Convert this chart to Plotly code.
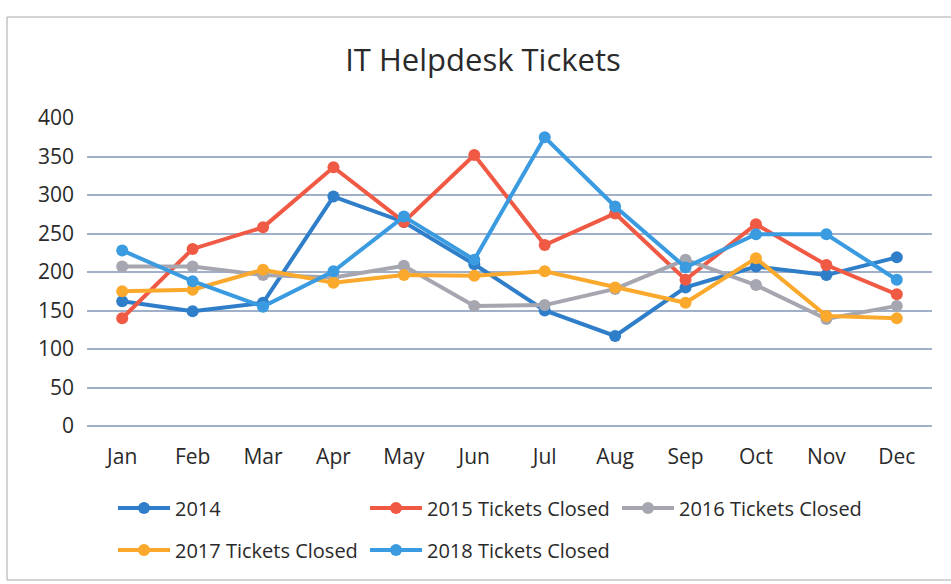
import plotly.graph_objects as go

# Monthly helpdesk ticket counts
months = ["Jan", "Feb", "Mar", "Apr", "May", "Jun", "Jul", "Aug", "Sep", "Oct", "Nov", "Dec"]

tickets_2014 = [162, 149, 160, 298, 265, 210, 150, 117, 180, 207, 196, 219]
tickets_2015 = [140, 230, 258, 336, 265, 352, 235, 276, 190, 262, 209, 171]
tickets_2016 = [207, 207, 196, 193, 208, 156, 157, 178, 216, 183, 139, 156]
tickets_2017 = [175, 177, 203, 186, 196, 195, 201, 180, 160, 218, 143, 140]
tickets_2018 = [228, 188, 155, 201, 272, 216, 375, 285, 206, 249, 249, 190]

series_names = ["2014", "2015 Tickets Closed", "2016 Tickets Closed",
                "2017 Tickets Closed", "2018 Tickets Closed"]
series_values = [tickets_2014, tickets_2015, tickets_2016, tickets_2017, tickets_2018]
series_colors = ["#2f7ec9", "#f05a45", "#a6a6b0", "#fba92c", "#3a9be0"]
# first three entries on the upper legend row, the rest on the lower row
series_legend = ["legend", "legend", "legend", "legend2", "legend2"]

y_ticks = [0, 50, 100, 150, 200, 250, 300, 350, 400]

FONT = "Open Sans"
TEXT = "#2a2a2a"
W, H = 951, 584

fig = go.Figure()
for name, vals, col, lg in zip(series_names, series_values, series_colors, series_legend):
    fig.add_trace(go.Scatter(
        x=months, y=vals, name=name, mode="lines+markers",
        line=dict(color=col, width=4),
        marker=dict(color=col, size=12),
        legend=lg,
    ))

legend_common = dict(orientation="h", xref="container", yref="container",
                     xanchor="left", yanchor="middle",
                     entrywidth=185, entrywidthmode="pixels", itemwidth=52,
                     font=dict(family=FONT, size=20, color=TEXT),
                     bgcolor="rgba(0,0,0,0)")

fig.update_layout(
    width=W, height=H,
    margin=dict(l=87, r=19, t=118, b=158),
    paper_bgcolor="white", plot_bgcolor="white",
    font=dict(family=FONT, color=TEXT),
    title=dict(text="IT Helpdesk Tickets", x=483 / W, xanchor="center",
               y=1 - 60 / H, yanchor="middle", yref="container",
               font=dict(family=FONT, size=31, color=TEXT)),
    xaxis=dict(range=[-0.5, len(months) - 0.5], showgrid=False, showline=False,
               zeroline=False, automargin=False,
               tickfont=dict(size=21, color=TEXT), ticks="", ticklen=0,
               ticklabelstandoff=16),
    yaxis=dict(range=[0, 400], tickvals=y_ticks, showgrid=True, automargin=False,
               gridcolor="#9fb0c8", gridwidth=1.5, zeroline=True,
               zerolinecolor="#9fb0c8", zerolinewidth=1.5, showline=False,
               tickfont=dict(size=21, color=TEXT), ticks="", ticklabelstandoff=12),
    legend=dict(x=113 / W, y=1 - 508 / H, **legend_common),
    legend2=dict(x=113 / W, y=1 - 550 / H, **legend_common),
    showlegend=True,
)

# Thin frame lines around the chart (left, top, bottom)
frame = dict(type="line", xref="paper", yref="paper",
             line=dict(color="#a8a8a8", width=1), layer="below")
px_x = lambda px: (px - 87) / 845
px_y = lambda py: (426 - py) / 308
fig.add_shape(x0=px_x(7), x1=px_x(7), y0=px_y(580), y1=px_y(17), **frame)
fig.add_shape(x0=px_x(7), x1=px_x(951), y0=px_y(17), y1=px_y(17), **frame)
fig.add_shape(x0=px_x(7), x1=px_x(951), y0=px_y(580), y1=px_y(580), **frame)

fig.write_html("out.html")
